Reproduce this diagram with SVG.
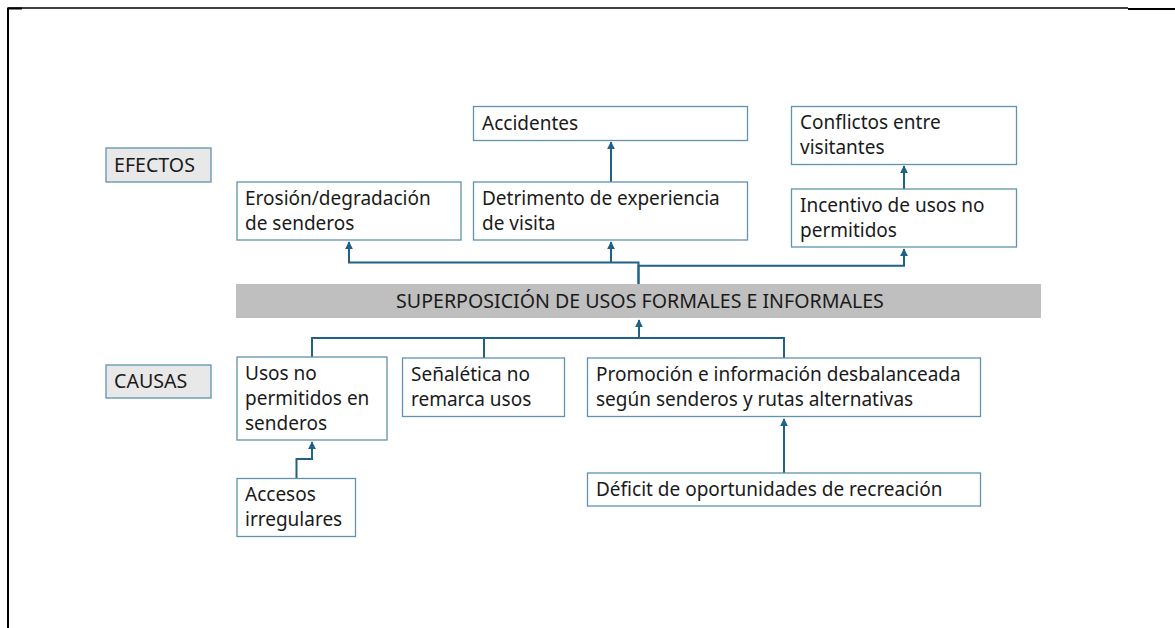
<svg xmlns="http://www.w3.org/2000/svg" width="1175" height="628" viewBox="0 0 1175 628">
<defs>
<style>
.box{fill:#ffffff;stroke:#5f93ae;stroke-width:1.3}
.lbl{fill:#e8e8e8;stroke:#5f93ae;stroke-width:1.3}
.band{fill:#bfbfbf}
.t{font-family:"Noto Sans","Open Sans","Liberation Sans",sans-serif;font-size:19px;fill:#1a1a1a}
.tb{font-size:19.6px}
.c{fill:none;stroke:#1f6285;stroke-width:2}
.frame{stroke:#000;fill:none}
</style>
<marker id="ah" viewBox="0 0 10 10" refX="9" refY="5" markerWidth="4" markerHeight="4.5" orient="auto" markerUnits="strokeWidth">
<path d="M0,0 L10,5 L0,10 z" fill="#1f6285"/>
</marker>
</defs>
<rect width="1175" height="628" fill="#ffffff"/>
<g id="frame">
<line class="frame" x1="8" y1="8" x2="1128" y2="8" stroke-width="1.5"/>
<line class="frame" x1="1128" y1="9" x2="1175" y2="9" stroke-width="2"/>
<line class="frame" x1="8" y1="8" x2="8" y2="628" stroke-width="2"/>
<line class="frame" x1="7" y1="8.5" x2="22" y2="8.5" stroke-width="2"/>
</g>
<g id="connectors">
<path class="c" d="M638.5,284 V262.5 H349 V242" marker-end="url(#ah)"/>
<path class="c" d="M611,262.5 V242" marker-end="url(#ah)"/>
<path class="c" d="M638.5,284 V265.8 H904 V249" marker-end="url(#ah)"/>
<path class="c" d="M611,182 V142" marker-end="url(#ah)"/>
<path class="c" d="M904,189 V166" marker-end="url(#ah)"/>
<path class="c" d="M312,357 V338 H784 V358"/>
<path class="c" d="M484,338 V358"/>
<path class="c" d="M639,338 V320" marker-end="url(#ah)"/>
<path class="c" d="M784,473 V419" marker-end="url(#ah)"/>
<path class="c" d="M296.5,478 V459 H312 V442" marker-end="url(#ah)"/>
</g>
<g id="efectos">
<rect class="lbl" x="106" y="148" width="105" height="34"/>
<text class="t tb" x="114" y="172">EFECTOS</text>
</g>
<g id="causas">
<rect class="lbl" x="106" y="365" width="105" height="33"/>
<text class="t tb" x="114" y="388">CAUSAS</text>
</g>
<g id="erosion">
<rect class="box" x="237" y="182" width="224" height="58"/>
<text class="t" x="245" y="205">Erosión/degradación</text>
<text class="t" x="245" y="230">de senderos</text>
</g>
<g id="accidentes">
<rect class="box" x="473.5" y="106.5" width="274" height="34"/>
<text class="t" x="482" y="130">Accidentes</text>
</g>
<g id="detrimento">
<rect class="box" x="473.5" y="182" width="274" height="58"/>
<text class="t" x="482" y="205">Detrimento de experiencia</text>
<text class="t" x="482" y="230">de visita</text>
</g>
<g id="conflictos">
<rect class="box" x="791.5" y="106.5" width="225" height="58"/>
<text class="t" x="800" y="129">Conflictos entre</text>
<text class="t" x="800" y="154">visitantes</text>
</g>
<g id="incentivo">
<rect class="box" x="791.5" y="189" width="225" height="58"/>
<text class="t" x="800" y="212">Incentivo de usos no</text>
<text class="t" x="800" y="237">permitidos</text>
</g>
<g id="superposicion">
<rect class="band" x="236" y="284" width="805" height="34"/>
<text class="t tb" x="640" y="307.5" text-anchor="middle">SUPERPOSICIÓN DE USOS FORMALES E INFORMALES</text>
</g>
<g id="usos">
<rect class="box" x="237" y="357" width="150" height="83"/>
<text class="t" x="245" y="380">Usos no</text>
<text class="t" x="245" y="405">permitidos en</text>
<text class="t" x="245" y="430">senderos</text>
</g>
<g id="senaletica">
<rect class="box" x="402.5" y="358" width="162" height="58.5"/>
<text class="t" x="411" y="381">Señalética no</text>
<text class="t" x="411" y="406">remarca usos</text>
</g>
<g id="promocion">
<rect class="box" x="587.5" y="358" width="393" height="58.5"/>
<text class="t" x="596" y="381">Promoción e información desbalanceada</text>
<text class="t" x="596" y="406">según senderos y rutas alternativas</text>
</g>
<g id="accesos">
<rect class="box" x="237" y="478.5" width="118.5" height="58"/>
<text class="t" x="245" y="501">Accesos</text>
<text class="t" x="245" y="526">irregulares</text>
</g>
<g id="deficit">
<rect class="box" x="587.5" y="473" width="393" height="33"/>
<text class="t" x="596" y="496">Déficit de oportunidades de recreación</text>
</g>
</svg>
